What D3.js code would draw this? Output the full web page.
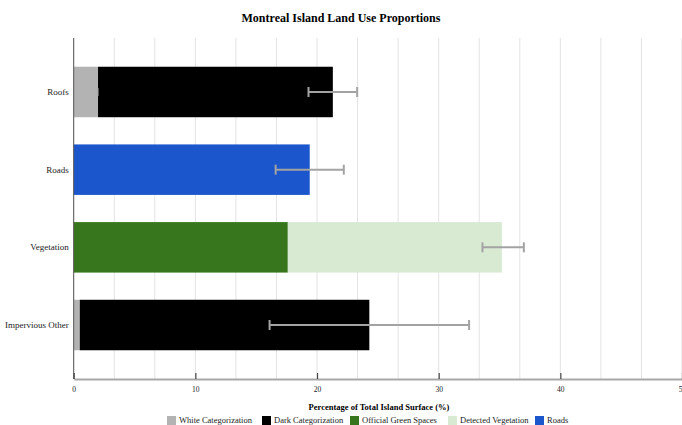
<!DOCTYPE html>
<html>
<head>
<meta charset="utf-8">
<script src="https://cdn.jsdelivr.net/npm/d3@7"></script>
<style>
  html, body { margin: 0; padding: 0; background: #fff; }
  svg text { font-family: "Liberation Serif", "Times New Roman", serif; }
</style>
</head>
<body>
<svg id="chart" width="682" height="425"></svg>
<script>
// Land use categories (top to bottom)
const categories = ["Roofs", "Roads", "Vegetation", "Impervious Other"];

// Stacked segments, percentage of total island surface
const whiteCategorization = [2.0, 0, 0, 0.5];
const darkCategorization  = [19.3, 0, 0, 23.8];
const officialGreenSpaces = [0, 0, 17.6, 0];
const detectedVegetation  = [0, 0, 17.6, 0];
const roads               = [0, 19.4, 0, 0];

// Error bars: centre value and half-width
const errorCenter = [21.3, 19.4, 35.3, 24.3];
const errorHalf   = [2.0, 2.8, 1.7, 8.2];

const seriesNames  = ["White Categorization", "Dark Categorization", "Official Green Spaces", "Detected Vegetation", "Roads"];
const seriesColors = ["#b3b3b3", "#000000", "#38761d", "#d9ead3", "#1c56cc"];
const xTicks = [0, 10, 20, 30, 40, 50];

const FONT = "Liberation Serif, Times New Roman, serif";
const svg = d3.select("#chart");
const W = 682, H = 425;
const margin = { left: 73.7, right: 0, top: 38, bottom: 46 };

const x = d3.scaleLinear().domain([0, 50]).range([margin.left, 682]);
const y = d3.scaleBand().domain(categories).range([margin.top, H - margin.bottom]).paddingInner(0.35).paddingOuter(0.37);

// Build stacked rows
const rows = categories.map((c, i) => ({
  cat: c,
  "White Categorization": whiteCategorization[i],
  "Dark Categorization": darkCategorization[i],
  "Official Green Spaces": officialGreenSpaces[i],
  "Detected Vegetation": detectedVegetation[i],
  "Roads": roads[i]
}));
const stacked = d3.stack().keys(seriesNames)(rows);
const color = d3.scaleOrdinal().domain(seriesNames).range(seriesColors);

// Title
svg.append("text")
  .attr("x", W / 2).attr("y", 22)
  .attr("text-anchor", "middle")
  .attr("font-family", FONT)
  .attr("font-size", 12).attr("font-weight", "bold")
  .text("Montreal Island Land Use Proportions");

// Vertical grid lines
const gridVals = d3.range(0, 16).map(i => i * 10 / 3);
svg.append("g").selectAll("line").data(gridVals).join("line")
  .attr("x1", d => x(d)).attr("x2", d => x(d))
  .attr("y1", margin.top).attr("y2", H - margin.bottom)
  .attr("stroke", "#e3e3e3").attr("stroke-width", 1);

// Bars
svg.append("g").selectAll("g").data(stacked).join("g")
  .attr("fill", d => color(d.key))
  .selectAll("rect").data(d => d.filter(s => s[1] - s[0] > 0)).join("rect")
  .attr("x", d => x(d[0]))
  .attr("width", d => x(d[1]) - x(d[0]))
  .attr("y", d => y(d.data.cat))
  .attr("height", y.bandwidth());

// Error bars
const errG = svg.append("g").attr("stroke", "#a3a3a3").attr("stroke-width", 2);
categories.forEach((c, i) => {
  const cy = y(c) + y.bandwidth() / 2;
  const lo = x(errorCenter[i] - errorHalf[i]), hi = x(errorCenter[i] + errorHalf[i]);
  errG.append("line").attr("x1", lo).attr("x2", hi).attr("y1", cy).attr("y2", cy);
  errG.append("line").attr("x1", lo).attr("x2", lo).attr("y1", cy - 5).attr("y2", cy + 5);
  errG.append("line").attr("x1", hi).attr("x2", hi).attr("y1", cy - 5).attr("y2", cy + 5);
});
// zero-width error mark at the end of the white roof segment
errG.append("line")
  .attr("x1", x(whiteCategorization[0])).attr("x2", x(whiteCategorization[0]))
  .attr("y1", y("Roofs") + y.bandwidth() / 2 - 4).attr("y2", y("Roofs") + y.bandwidth() / 2 + 4)
  .attr("stroke-width", 1);

// Y axis
svg.append("line")
  .attr("x1", margin.left).attr("x2", margin.left)
  .attr("y1", margin.top).attr("y2", H - margin.bottom)
  .attr("stroke", "#555").attr("stroke-width", 1);
svg.append("g").selectAll("text").data(categories).join("text")
  .attr("x", margin.left - 5)
  .attr("y", d => y(d) + y.bandwidth() / 2)
  .attr("dy", "0.35em")
  .attr("text-anchor", "end")
  .attr("font-family", FONT)
  .attr("font-size", 9)
  .attr("fill", "#222")
  .text(d => d);

// X axis
const xAxis = d3.axisBottom(x).tickValues(xTicks).tickSize(0).tickPadding(8).tickFormat(d3.format("d"));
const xg = svg.append("g").attr("transform", `translate(0,${H - margin.bottom})`).call(xAxis);
xg.attr("font-family", FONT);
xg.select(".domain").attr("stroke", "#a8a8a8").attr("stroke-width", 2);
xg.selectAll(".tick text").attr("font-size", 7.5).attr("fill", "#222");
xg.selectAll(".tick").append("line")
  .attr("y1", 0).attr("y2", -6).attr("stroke", "#444").attr("stroke-width", 1.2);

// X axis title
svg.append("text")
  .attr("x", W / 2 + 38).attr("y", 410)
  .attr("text-anchor", "middle")
  .attr("font-family", FONT)
  .attr("font-size", 8.5).attr("font-weight", "bold")
  .text("Percentage of Total Island Surface (%)");

// Legend
const legendX = [167, 262, 350, 448, 535];
const lg = svg.append("g").selectAll("g").data(seriesNames).join("g")
  .attr("transform", (d, i) => `translate(${legendX[i]},416)`);
lg.append("rect").attr("width", 9).attr("height", 9).attr("fill", d => color(d));
lg.append("text").attr("x", 12).attr("y", 4.5).attr("dy", "0.35em")
  .attr("font-family", FONT)
  .attr("font-size", 8.5).attr("fill", "#222").text(d => d);
</script>
</body>
</html>
